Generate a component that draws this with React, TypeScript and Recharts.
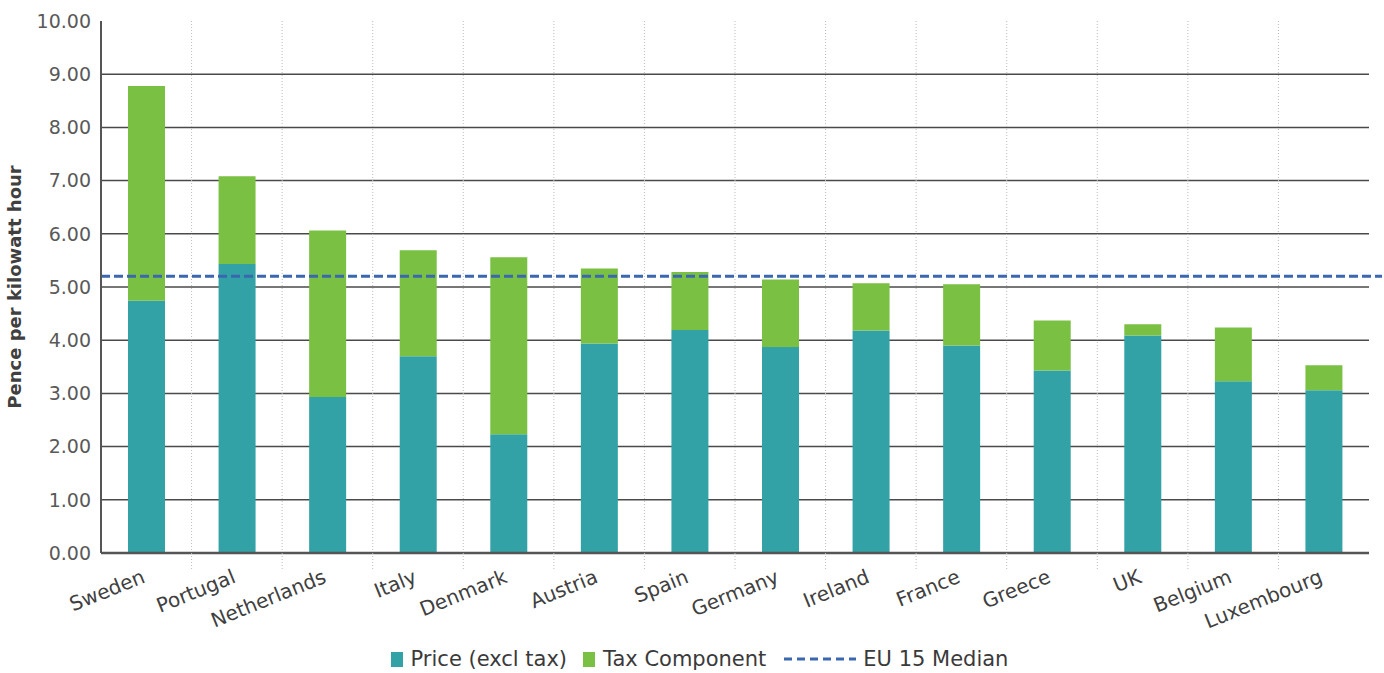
import {
  BarChart,
  Bar,
  XAxis,
  YAxis,
  CartesianGrid,
  ReferenceLine,
  Legend,
} from "recharts";

const countries = [
  "Sweden",
  "Portugal",
  "Netherlands",
  "Italy",
  "Denmark",
  "Austria",
  "Spain",
  "Germany",
  "Ireland",
  "France",
  "Greece",
  "UK",
  "Belgium",
  "Luxembourg",
];

// pence per kWh, excluding tax
const priceExclTax = [4.74, 5.43, 2.93, 3.7, 2.23, 3.94, 4.19, 3.87, 4.18, 3.9, 3.43, 4.09, 3.23, 3.06];

// tax stacked on top of the price
const taxComponent = [4.04, 1.65, 3.13, 1.99, 3.33, 1.41, 1.09, 1.27, 0.89, 1.15, 0.94, 0.21, 1.01, 0.47];

const eu15Median = 5.2;

const yTicks = [0, 1, 2, 3, 4, 5, 6, 7, 8, 9, 10];

const data = countries.map((country, i) => ({
  country,
  price: priceExclTax[i],
  tax: taxComponent[i],
}));

const WIDTH = 1384;
const HEIGHT = 673;
const MARGIN = { top: 21, right: 15, bottom: 0, left: 0 };
const Y_AXIS_W = 101;
const PLOT_W = WIDTH - MARGIN.left - MARGIN.right - Y_AXIS_W;
const BAND = PLOT_W / countries.length;

const TEAL = "#32a2a7";
const GREEN = "#7ac143";
const BLUE = "#3b67b0";
const GRID = "#4a4a4a";
const AXIS = "#555555";
const FONT = "'DejaVu Sans', sans-serif";

// dotted lines between categories (not at category centres)
const betweenCategories = ({ offset }: any) => {
  const xs: number[] = [];
  for (let k = 1; k < countries.length; k++) {
    xs.push(offset.left + (offset.width * k) / countries.length);
  }
  return xs;
};

// solid lines for 1..9, no line on top of the plot
const valueLines = ({ offset }: any) => {
  const max = yTicks[yTicks.length - 1];
  return yTicks
    .filter((t) => t > 0 && t < max)
    .map((t) => offset.top + offset.height * (1 - t / max));
};

const CountryTick = (props: any) => {
  const { x, y, payload, index } = props;
  const ty = y + 29;
  return (
    <g>
      {index < countries.length - 1 && (
        <line
          x1={x + BAND / 2}
          x2={x + BAND / 2}
          y1={y}
          y2={y + 16}
          stroke="#bdbdbd"
          strokeDasharray="1 2"
        />
      )}
      <text
        x={x}
        y={ty}
        transform={`rotate(-22, ${x}, ${ty})`}
        textAnchor="end"
        fontSize={20}
        fontFamily={FONT}
        fill="#404040"
      >
        {payload.value}
      </text>
    </g>
  );
};

const AxisTitle = (props: any) => {
  const { viewBox } = props;
  const cx = 21;
  const cy = viewBox.y + viewBox.height / 2;
  return (
    <text
      x={cx}
      y={cy}
      transform={`rotate(-90, ${cx}, ${cy})`}
      textAnchor="middle"
      fontSize={18}
      fontWeight="bold"
      fontFamily={FONT}
      fill="#404040"
    >
      Pence per kilowatt hour
    </text>
  );
};

// median line runs a little past the right edge of the plot
const MedianLine = (props: any) => {
  const { x1, y1, x2, y2 } = props;
  return (
    <line
      x1={x1}
      y1={y1}
      x2={x2 + 13}
      y2={y2}
      stroke={BLUE}
      strokeWidth={3}
      strokeDasharray="9 4"
    />
  );
};

const Swatch = ({ color }: { color: string }) => (
  <span style={{ display: "inline-block", width: 12, height: 15, background: color, marginRight: 8 }} />
);

const LegendContent = () => (
  <div
    style={{
      height: 40,
      boxSizing: "border-box",
      paddingTop: 12,
      paddingLeft: 30,
      display: "flex",
      justifyContent: "center",
      alignItems: "center",
      fontFamily: FONT,
      fontSize: 21,
      color: "#3a3a3a",
    }}
  >
    <span style={{ display: "flex", alignItems: "center", marginRight: 16 }}>
      <Swatch color={TEAL} />
      Price (excl tax)
    </span>
    <span style={{ display: "flex", alignItems: "center", marginRight: 18 }}>
      <Swatch color={GREEN} />
      Tax Component
    </span>
    <span style={{ display: "flex", alignItems: "center" }}>
      <svg width={72} height={6} style={{ marginRight: 7 }}>
        <line x1={0} x2={72} y1={3} y2={3} stroke={BLUE} strokeWidth={3} strokeDasharray="8 5" />
      </svg>
      EU 15 Median
    </span>
  </div>
);

export default function App() {
  return (
    <div style={{ position: "absolute", left: 0, top: 0, background: "#fff" }}>
      <BarChart width={WIDTH} height={HEIGHT} data={data} margin={MARGIN}>
        <CartesianGrid
          vertical={false}
          horizontalCoordinatesGenerator={valueLines}
          stroke={GRID}
          strokeWidth={1.5}
        />
        <CartesianGrid
          horizontal={false}
          verticalCoordinatesGenerator={betweenCategories}
          stroke="#bdbdbd"
          strokeDasharray="1 2"
        />
        <XAxis
          dataKey="country"
          interval={0}
          height={80}
          tickSize={0}
          tickMargin={0}
          tick={<CountryTick />}
          axisLine={{ stroke: AXIS, strokeWidth: 2.5 }}
        />
        <YAxis
          width={Y_AXIS_W}
          domain={[0, 10]}
          ticks={yTicks}
          interval={0}
          tickFormatter={(v: number) => v.toFixed(2)}
          tickSize={0}
          tickMargin={10}
          tick={{ fontSize: 19, fontFamily: FONT, fill: "#595959" }}
          axisLine={{ stroke: AXIS, strokeWidth: 2 }}
          label={<AxisTitle />}
        />
        <Bar dataKey="price" stackId="a" fill={TEAL} barSize={37} isAnimationActive={false} />
        <Bar dataKey="tax" stackId="a" fill={GREEN} barSize={37} isAnimationActive={false} />
        <ReferenceLine y={eu15Median} shape={<MedianLine />} ifOverflow="extendDomain" />
        <Legend verticalAlign="bottom" height={40} content={<LegendContent />} />
      </BarChart>
    </div>
  );
}
